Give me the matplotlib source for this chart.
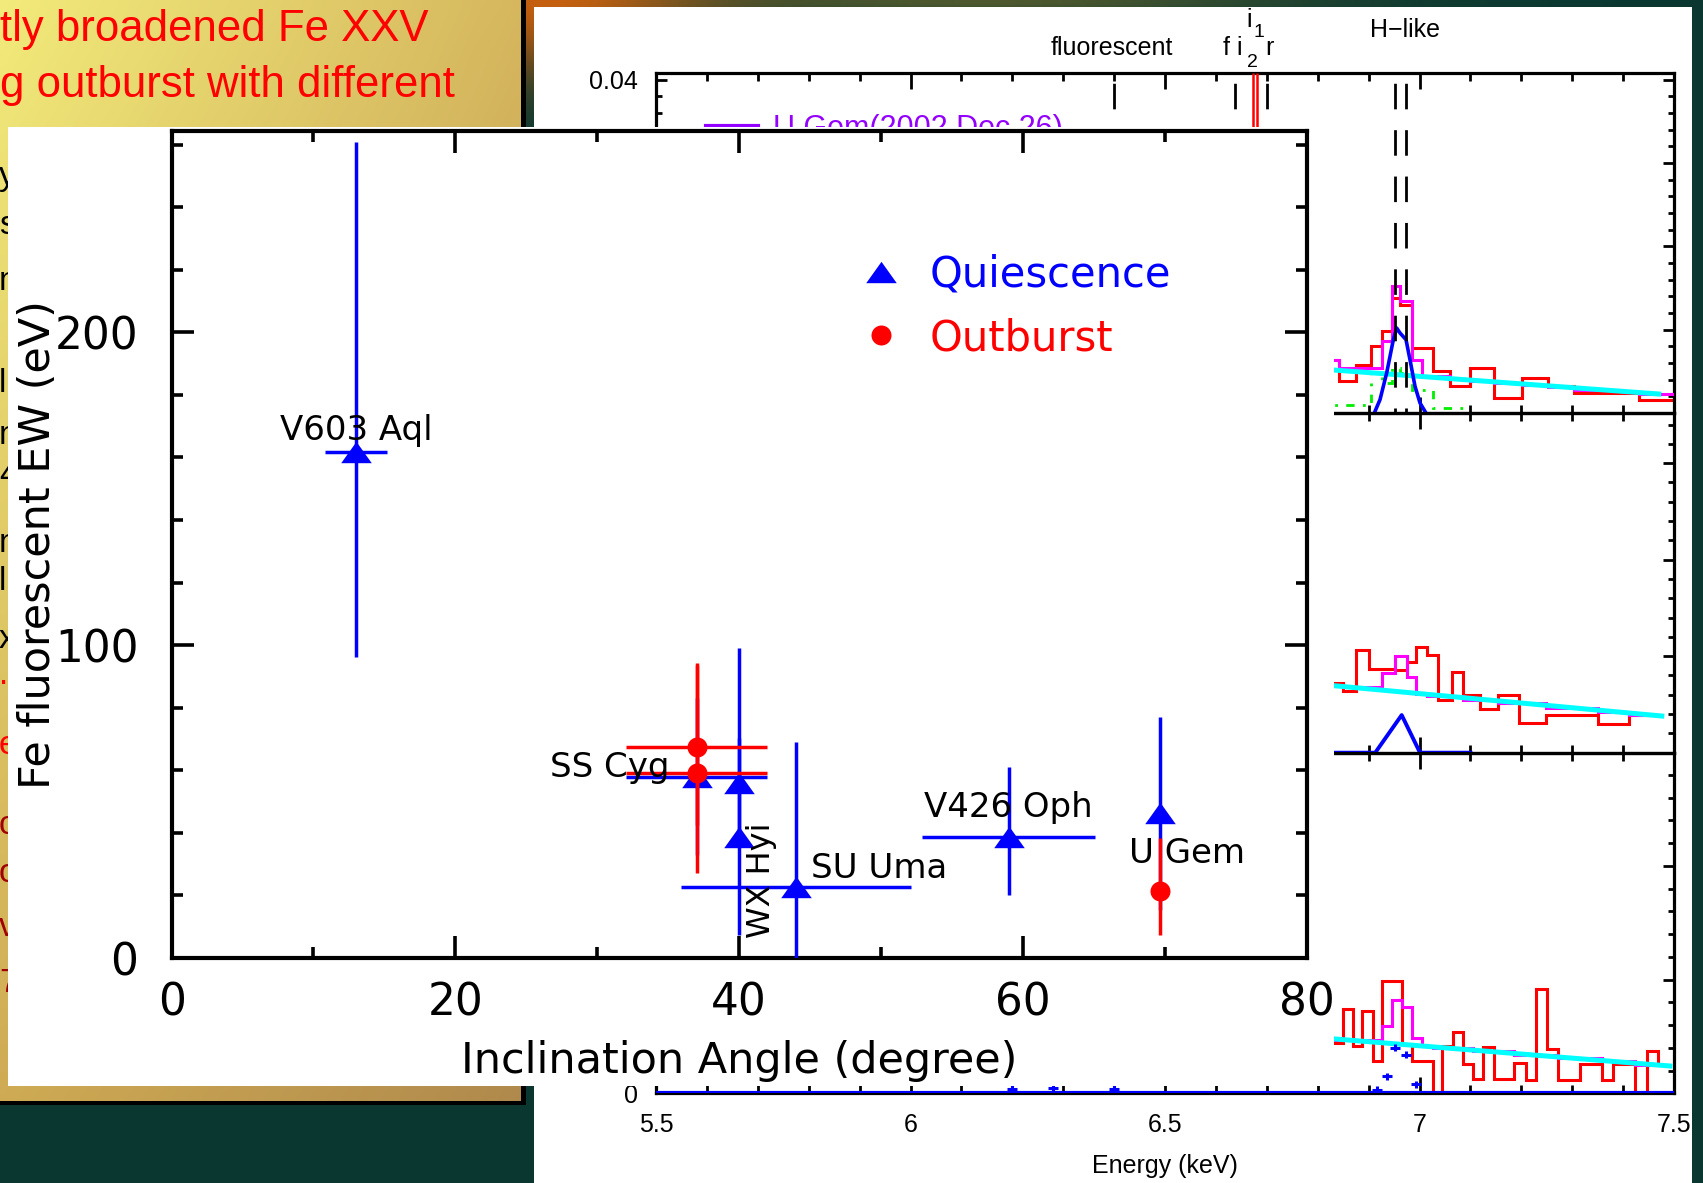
import numpy as np
import matplotlib
matplotlib.use("Agg")
import matplotlib.pyplot as plt
from matplotlib.path import Path
from matplotlib.lines import Line2D
from matplotlib.patches import Rectangle
from matplotlib.ticker import MultipleLocator, FuncFormatter
from matplotlib.transforms import blended_transform_factory

W, H, DPI = 1703, 1183, 100

# ---------------- Fe fluorescent EW vs. inclination ----------------
quiescence_names = ["V603 Aql", "SS Cyg", "WX Hyi", "WX Hyi", "SU Uma", "V426 Oph", "U Gem"]
quiescence_incl = [13.0, 37.0, 40.0, 40.0, 44.0, 59.0, 69.7]
quiescence_incl_err = [2.2, 5.0, 0.0, 0.0, 8.1, 6.1, 0.0]
quiescence_ew = [161.8, 58.0, 55.8, 38.8, 22.8, 38.6, 46.3]
quiescence_ew_lo = [65.7, 25.0, 20.0, 31.4, 46.4, 18.5, 30.8]
quiescence_ew_hi = [99.1, 25.0, 43.2, 31.4, 46.4, 22.6, 30.8]

outburst_names = ["SS Cyg", "SS Cyg", "U Gem"]
outburst_incl = [37.0, 37.0, 69.7]
outburst_incl_err = [5.0, 5.0, 0.0]
outburst_ew = [67.6, 59.2, 21.5]
outburst_ew_lo = [25.0, 32.0, 14.0]
outburst_ew_hi = [26.0, 35.0, 17.0]

legend_labels = ["Quiescence", "Outburst"]

label_names = ["V603 Aql", "SS Cyg", "WX Hyi", "SU Uma", "V426 Oph", "U Gem"]
label_x = [7.65, 26.7, 42.17, 45.07, 53.0, 67.5]
label_y = [165.6, 58.0, 6.4, 25.5, 45.2, 30.3]
label_rot = [0, 0, 90, 0, 0, 0]

# ---------------- U Gem spectra (three panels) ----------------
top_red_edges = [6.80, 6.842, 6.875, 6.904, 6.926, 6.945, 6.962, 6.985, 7.027, 7.060,
                 7.100, 7.146, 7.201, 7.253, 7.304, 7.400, 7.432, 7.500]
top_red_vals = [0.0064, 0.0038, 0.0058, 0.0080, 0.0098, 0.0138, 0.0130, 0.0078, 0.0051,
                0.0033, 0.0054, 0.0018, 0.0042, 0.0032, 0.0024, 0.0024, 0.0016]
top_mag_edges = [6.80, 6.842, 6.926, 6.945, 6.962, 6.985, 7.004, 7.060, 7.100, 7.146,
                 7.201, 7.253, 7.304, 7.400, 7.432, 7.500]
top_mag_vals = [0.0064, 0.0054, 0.0086, 0.0152, 0.0134, 0.0064, 0.0044, 0.0041, 0.0039,
                0.0036, 0.0034, 0.0031, 0.0028, 0.0025, 0.0023]
top_green_edges = [6.80, 6.904, 6.926, 6.945, 6.962, 6.985, 7.027, 7.10]
top_green_vals = [0.0010, 0.0048, 0.0036, 0.0054, 0.0048, 0.0028, 0.0006]
top_cont_e = [6.80, 7.47]
top_cont_v = [0.0053, 0.00228]
top_line_e = [6.9126, 6.9224, 6.9355, 6.9486, 6.9551, 6.9617, 6.9735, 6.9813, 6.9912, 7.001, 7.0108]
top_line_v = [0.0002, 0.0016, 0.0048, 0.0088, 0.0102, 0.0096, 0.0088, 0.0064, 0.0032, 0.0012, 0.0002]

mid_red_edges = [6.80, 6.850, 6.875, 6.901, 6.952, 6.975, 6.993, 7.014, 7.037, 7.063,
                 7.086, 7.119, 7.155, 7.196, 7.249, 7.351, 7.412, 7.476]
mid_red_vals = [0.0072, 0.0064, 0.0106, 0.0087, 0.0086, 0.0094, 0.0110, 0.0101, 0.0055,
                0.0084, 0.0060, 0.0045, 0.0060, 0.0031, 0.0039, 0.0030, 0.0039]
mid_mag_edges = [6.80, 6.850, 6.926, 6.952, 6.975, 6.993, 7.014, 7.086, 7.155, 7.249,
                 7.351, 7.412, 7.476]
mid_mag_vals = [0.0070, 0.0068, 0.0083, 0.0100, 0.0078, 0.0061, 0.0059, 0.0055, 0.0051,
                0.0046, 0.0042, 0.0039]
mid_cont_e = [6.80, 7.476]
mid_cont_v = [0.0071, 0.0038]
mid_line_e = [6.80, 6.913, 6.965, 7.001, 7.10]
mid_line_v = [0.0, 0.0, 0.0039, 0.0, 0.0]

bot_red_edges = [6.80, 6.849, 6.869, 6.888, 6.908, 6.926, 6.965, 6.985, 7.026, 7.044,
                 7.065, 7.085, 7.106, 7.124, 7.146, 7.186, 7.209, 7.229, 7.251, 7.273,
                 7.315, 7.358, 7.380, 7.423, 7.446, 7.469, 7.492]
bot_red_vals = [0.0044, 0.0074, 0.0042, 0.0072, 0.0028, 0.0099, 0.0043, 0.0028, 0.0, 0.0042,
                0.0054, 0.0026, 0.0013, 0.0041, 0.0013, 0.0027, 0.0012, 0.0092, 0.0039,
                0.0012, 0.0026, 0.0012, 0.0026, 0.0, 0.0037, 0.0025]
bot_mag_edges = [6.80, 6.926, 6.945, 6.965, 6.985, 7.004, 7.026, 7.106, 7.186, 7.273,
                 7.358, 7.423, 7.492]
bot_mag_vals = [0.0047, 0.0059, 0.0082, 0.0076, 0.0049, 0.0042, 0.0040, 0.0037, 0.0034,
                0.0031, 0.0028, 0.0025]
bot_cont_e = [6.80, 7.492]
bot_cont_v = [0.0049, 0.0024]
bot_model_e = [5.5, 7.5]
bot_model_v = [0.0, 0.0]
bot_resid_e = [6.20, 6.28, 6.40, 6.917, 6.936, 6.9525, 6.9728, 6.9937]
bot_resid_v = [0.0004, 0.0005, 0.0004, 0.0003, 0.0015, 0.0040, 0.0034, 0.0008]

fe_line_energies = [6.400, 6.637, 6.700, 6.952, 6.973]
fe_i_energies = [6.672, 6.681]
spec_legend = ["U Gem(2002 Dec 26)"]

slide_lines = ["tly broadened Fe XXV", "g outburst with different"]
edge_chars = ["y", "s", "n", "l", "n", "4", "n", "l", "x", ".", "e", "c", "o", "v", "7"]
edge_y = [177, 225, 282, 384, 436, 475, 544, 582, 640, 676, 745, 826, 874, 928, 984]
edge_colors = ["black"] * 9 + ["red", "red"] + ["#a00000"] * 4

BLUE, RED = "#0000ff", "#ff0000"

fig = plt.figure(figsize=(W / DPI, H / DPI), dpi=DPI)
fig.patch.set_facecolor("#0b3a32")


def px_axes(x0, y0, x1, y1, zorder):
    return fig.add_axes([x0 / W, 1 - y1 / H, (x1 - x0) / W, (y1 - y0) / H], zorder=zorder)


def blank(ax, color="white"):
    ax.set_facecolor(color)
    ax.set_xticks([])
    ax.set_yticks([])
    for s in ax.spines.values():
        s.set_visible(False)


# ---- slide backdrop ----
bg = px_axes(0, 0, W, H, 0)
bg.set_axis_off()
yy, xx = np.mgrid[0:H:6, 0:W:6]
base = np.array([0.04, 0.22, 0.19])
orange = np.array([0.74, 0.36, 0.06])
olive = np.array([0.42, 0.40, 0.18])
w_or = np.exp(-((xx - 540) / 160.0) ** 2 - (yy / 75.0) ** 2)
w_ol = 0.7 * np.exp(-((xx - 980) / 300.0) ** 2 - (yy / 12.0) ** 2)
img = base + w_or[..., None] * (orange - base) + w_ol[..., None] * (olive - base)
bg.imshow(np.clip(img, 0, 1), extent=[0, W, H, 0], aspect="auto", interpolation="bilinear")
bg.set_xlim(0, W)
bg.set_ylim(H, 0)

# ---- yellow text panel ----
yp = px_axes(0, 0, 526, 1105, 1)
yp.set_axis_off()
yp.set_xlim(0, 526)
yp.set_ylim(1105, 0)
yp.add_patch(Rectangle((0, 0), 526, 1105, color="black"))
gx, gy = np.meshgrid(np.linspace(0, 1, 64), np.linspace(0, 1, 128))
c_tl, c_tr = np.array([0.95, 0.92, 0.48]), np.array([0.84, 0.72, 0.37])
c_bl, c_br = np.array([0.81, 0.67, 0.33]), np.array([0.69, 0.54, 0.30])
grad = ((1 - gx)[..., None] * (1 - gy)[..., None] * c_tl + gx[..., None] * (1 - gy)[..., None] * c_tr
        + (1 - gx)[..., None] * gy[..., None] * c_bl + gx[..., None] * gy[..., None] * c_br)
yp.imshow(grad, extent=[0, 521, 1101, 0], aspect="auto", interpolation="bilinear", zorder=1)
for i, line in enumerate(slide_lines):
    yp.text(0, 41 + 55.6 * i, line, color=RED, fontsize=31.5, family="Liberation Sans",
            ha="left", va="baseline", zorder=2)
for ch, yv, col in zip(edge_chars, edge_y, edge_colors):
    yp.text(-1, yv, ch, color=col, fontsize=24, family="Liberation Sans",
            ha="left", va="center", zorder=2)

# ---- spectrum figure ----
spw = px_axes(534, 7, 1692, H, 2)
blank(spw)

panel_px = [(73, 413), (413, 752.7), (752.7, 1093.3)]
panel_ymax = [0.0408, 0.0352, 0.02995]
panels = []
for (y0, y1), ymax in zip(panel_px, panel_ymax):
    pa = px_axes(656, y0, 1674, y1, 3)
    pa.set_facecolor("none")
    pa.set_xlim(5.5, 7.5)
    pa.set_ylim(0, ymax)
    pa.xaxis.set_major_locator(MultipleLocator(0.5))
    pa.xaxis.set_minor_locator(MultipleLocator(0.1))
    pa.yaxis.set_major_locator(MultipleLocator(0.01))
    pa.yaxis.set_minor_locator(MultipleLocator(0.002))
    pa.tick_params(which="both", direction="in", top=True, right=True, width=2.0,
                   labelsize=18, color="black")
    pa.tick_params(axis="x", which="major", length=11.5, pad=14)
    pa.tick_params(axis="x", which="minor", length=5.8)
    pa.tick_params(axis="y", which="major", length=8, pad=13)
    pa.tick_params(axis="y", which="minor", length=4.3)
    fmt = FuncFormatter(lambda v, p: "%g" % round(v, 4))
    pa.xaxis.set_major_formatter(fmt)
    pa.yaxis.set_major_formatter(fmt)
    for lab in pa.get_xticklabels() + pa.get_yticklabels():
        lab.set_family("Liberation Sans")
    for s in pa.spines.values():
        s.set_linewidth(2.3)
    panels.append(pa)
ax_top, ax_mid, ax_bot = panels
ax_top.tick_params(labelbottom=False)
ax_mid.tick_params(labelbottom=False, labelleft=False)
ax_bot.set_xlabel("Energy (keV)", fontsize=18, family="Liberation Sans")
ax_bot.xaxis.label.set_verticalalignment("baseline")
ax_bot.xaxis.set_label_coords(0.5, -0.235)

ax_top.stairs(top_red_vals, top_red_edges, baseline=None, color=RED, lw=2.2, zorder=2)
ax_top.stairs(top_mag_vals, top_mag_edges, baseline=None, color="#ff00ff", lw=2.2, zorder=3)
ax_top.stairs(top_green_vals, top_green_edges, baseline=None, color="#00ee00", lw=2.0,
              ls=(0, (3, 3, 1, 3)), zorder=3)
ax_top.plot(top_cont_e, top_cont_v, color="#00ffff", lw=3.6, zorder=4)
ax_top.plot(top_line_e, top_line_v, color=BLUE, lw=2.6, zorder=5)

ax_mid.stairs(mid_red_vals, mid_red_edges, baseline=None, color=RED, lw=2.2, zorder=2)
ax_mid.stairs(mid_mag_vals, mid_mag_edges, baseline=None, color="#ff00ff", lw=2.2, zorder=3)
ax_mid.plot(mid_cont_e, mid_cont_v, color="#00ffff", lw=3.6, zorder=4)
ax_mid.plot(mid_line_e, mid_line_v, color=BLUE, lw=2.8, zorder=5)

ax_bot.stairs(bot_red_vals, bot_red_edges, baseline=None, color=RED, lw=2.2, zorder=2)
ax_bot.stairs(bot_mag_vals, bot_mag_edges, baseline=None, color="#ff00ff", lw=2.2, zorder=3)
ax_bot.plot(bot_cont_e, bot_cont_v, color="#00ffff", lw=3.6, zorder=4)
ax_bot.plot(bot_model_e, bot_model_v, color=BLUE, lw=3.0, zorder=5)
ax_bot.errorbar(bot_resid_e, bot_resid_v, xerr=0.01, yerr=0.0003, fmt="none",
                ecolor=BLUE, elinewidth=2.2, capsize=0, zorder=5)

# line identifications above the top panel
ax_top.vlines(fe_line_energies, panel_ymax[0], 0, colors="black", lw=2.0,
              linestyles=[(13.0, (9.2, 7.5))], zorder=6)
ax_top.vlines(fe_i_energies, panel_ymax[0], 0, colors=RED, lw=1.8, zorder=6)
tr = blended_transform_factory(ax_top.transData, ax_top.transAxes)
id_text = [("fluorescent", 6.396, 1.053, 18), ("H\u2212like", 6.971, 1.106, 18),
           ("f", 6.620, 1.053, 18), ("i", 6.645, 1.053, 18), ("2", 6.672, 1.018, 14),
           ("i", 6.666, 1.135, 18), ("1", 6.685, 1.106, 14), ("r", 6.706, 1.053, 18)]
for s, e, yf, fs in id_text:
    ax_top.text(e, yf, s, transform=tr, ha="center", va="baseline", fontsize=fs,
                family="Liberation Sans", clip_on=False)
ax_top.legend([Line2D([], [], color="#9400ff", lw=3)], spec_legend, loc="upper left",
              bbox_to_anchor=(0.049, 0.879), frameon=False,
              prop={"family": "Liberation Sans", "size": 22}, labelcolor="#9400ff",
              handlelength=1.7, handletextpad=0.5, borderpad=0, borderaxespad=0)

# ---- main plot ----
box = px_axes(8, 127, 1334, 1086, 4)
blank(box)

ax = px_axes(171.6, 130.5, 1306.6, 958, 5)
ax.set_facecolor("white")
ax.set_xlim(0, 80)
ax.set_ylim(0, 264.5)
ax.xaxis.set_major_locator(MultipleLocator(20))
ax.xaxis.set_minor_locator(MultipleLocator(10))
ax.yaxis.set_major_locator(MultipleLocator(100))
ax.yaxis.set_minor_locator(MultipleLocator(20))
ax.tick_params(which="both", direction="in", top=True, right=True, width=2.6,
               labelsize=31.5, color="black")
ax.tick_params(which="major", length=16)
ax.tick_params(which="minor", length=8)
ax.tick_params(axis="x", pad=17)
ax.tick_params(axis="y", pad=24)
for s in ax.spines.values():
    s.set_linewidth(3.0)

tri = Path([(0, 0.7), (-1, -0.7), (1, -0.7), (0, 0.7)],
           [Path.MOVETO, Path.LINETO, Path.LINETO, Path.CLOSEPOLY])

ax.errorbar(quiescence_incl, quiescence_ew, xerr=quiescence_incl_err,
            yerr=[quiescence_ew_lo, quiescence_ew_hi], fmt="none", ecolor=BLUE,
            elinewidth=2.5, capsize=0, zorder=3)
ax.plot(quiescence_incl, quiescence_ew, ls="none", marker=tri, ms=22, color=BLUE,
        mec="none", zorder=4)
ax.errorbar(outburst_incl, outburst_ew, xerr=outburst_incl_err,
            yerr=[outburst_ew_lo, outburst_ew_hi], fmt="none", ecolor=RED,
            elinewidth=2.5, capsize=0, zorder=5)
ax.plot(outburst_incl, outburst_ew, ls="none", marker="o", ms=14.4, color=RED,
        mec="none", zorder=6)

for name, xv, yv, rot in zip(label_names, label_x, label_y, label_rot):
    ax.text(xv, yv, name, fontsize=24.5 if rot == 0 else 23, rotation=rot,
            rotation_mode="anchor", ha="left", va="baseline", zorder=7)

handles = [Line2D([], [], ls="none", marker=tri, ms=22, color=BLUE, mec="none"),
           Line2D([], [], ls="none", marker="o", ms=14.4, color=RED, mec="none")]
ax.legend(handles, legend_labels, loc="upper left", bbox_to_anchor=(0.607, 0.851),
          frameon=False, fontsize=30, labelcolor=[BLUE, RED], handlelength=1.0,
          handletextpad=0.66, labelspacing=0.51, borderpad=0, borderaxespad=0)

ax.set_xlabel("Inclination Angle (degree)", fontsize=31)
ax.xaxis.label.set_verticalalignment("baseline")
ax.xaxis.set_label_coords(0.5, -0.139)
ax.set_ylabel("Fe fluorescent EW (eV)", fontsize=31)
ax.yaxis.label.set_verticalalignment("baseline")
ax.yaxis.set_label_coords(-0.1071, 0.5)

fig.savefig("out.png", dpi=DPI, facecolor=fig.get_facecolor())
